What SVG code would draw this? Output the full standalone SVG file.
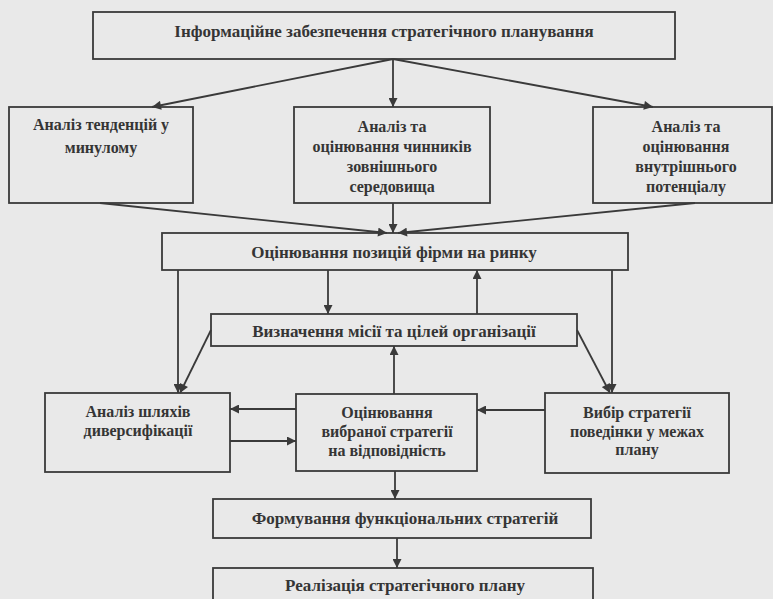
<svg xmlns="http://www.w3.org/2000/svg" width="773" height="599" viewBox="0 0 773 599">
<style>
.bg{fill:#e9e9e9}
.box{fill:none;stroke:#3a3a3a;stroke-width:1.8}
.t{font-family:"Liberation Serif","Tinos","DejaVu Serif","Times New Roman",serif;font-size:17px;font-weight:bold;fill:#353535;text-anchor:middle}
.s{font-size:16px}
.c line{stroke:#3a3a3a;stroke-width:1.8;marker-end:url(#ah)}
</style>
<defs>
<marker id="ah" viewBox="0 0 10 10" refX="10" refY="5" markerWidth="11" markerHeight="9" markerUnits="userSpaceOnUse" orient="auto">
<path d="M0,0 L10,5 L0,10 Z" fill="#3a3a3a"/>
</marker>
</defs>
<rect class="bg" x="0" y="0" width="773" height="599"/>
<g class="c" id="connectors">
<line x1="393" y1="59" x2="152" y2="107"/>
<line x1="393" y1="59" x2="393" y2="107"/>
<line x1="393" y1="59" x2="653" y2="107"/>
<line x1="100" y1="203" x2="387" y2="233"/>
<line x1="393" y1="203" x2="393" y2="233"/>
<line x1="695" y1="203" x2="398" y2="233"/>
<line x1="178" y1="270" x2="178" y2="393"/>
<line x1="328" y1="270" x2="328" y2="314"/>
<line x1="477" y1="314" x2="477" y2="270"/>
<line x1="612" y1="270" x2="612" y2="393"/>
<line x1="211" y1="330" x2="180" y2="393"/>
<line x1="577" y1="330" x2="610" y2="393"/>
<line x1="394" y1="394" x2="394" y2="346"/>
<line x1="296" y1="409" x2="230" y2="409"/>
<line x1="230" y1="441" x2="296" y2="441"/>
<line x1="545" y1="410" x2="477" y2="410"/>
<line x1="395" y1="471" x2="395" y2="499"/>
<line x1="397" y1="538" x2="397" y2="568"/>
</g>
<g id="n-info">
<rect class="box" x="93" y="12" width="582" height="47"/>
<text class="t" x="384" y="37">Інформаційне забезпечення стратегічного планування</text>
</g>
<g id="n-past">
<rect class="box" x="9" y="107" width="184" height="96"/>
<text class="t s" x="101" y="130">Аналіз тенденцій у</text>
<text class="t s" x="101" y="153">минулому</text>
</g>
<g id="n-ext">
<rect class="box" x="294" y="107" width="196" height="96"/>
<text class="t s" x="392" y="132">Аналіз та</text>
<text class="t s" x="392" y="152">оцінювання чинників</text>
<text class="t s" x="392" y="172">зовнішнього</text>
<text class="t s" x="392" y="192">середовища</text>
</g>
<g id="n-int">
<rect class="box" x="593" y="107" width="179" height="96"/>
<text class="t s" x="686" y="132">Аналіз та</text>
<text class="t s" x="686" y="152">оцінювання</text>
<text class="t s" x="686" y="172">внутрішнього</text>
<text class="t s" x="686" y="192">потенціалу</text>
</g>
<g id="n-pos">
<rect class="box" x="162" y="233" width="466" height="37"/>
<text class="t" x="394" y="258">Оцінювання позицій фірми на ринку</text>
</g>
<g id="n-mission">
<rect class="box" x="211" y="314" width="366" height="32"/>
<text class="t" x="394" y="337">Визначення місії та цілей організації</text>
</g>
<g id="n-div">
<rect class="box" x="45" y="393" width="185" height="79"/>
<text class="t s" x="138" y="417">Аналіз шляхів</text>
<text class="t s" x="138" y="436">диверсифікації</text>
</g>
<g id="n-eval">
<rect class="box" x="296" y="394" width="181" height="77"/>
<text class="t s" x="387" y="418">Оцінювання</text>
<text class="t s" x="387" y="437">вибраної стратегії</text>
<text class="t s" x="387" y="456">на відповідність</text>
</g>
<g id="n-choice">
<rect class="box" x="545" y="393" width="184" height="80"/>
<text class="t s" x="637" y="418">Вибір стратегії</text>
<text class="t s" x="637" y="437">поведінки у межах</text>
<text class="t s" x="637" y="455">плану</text>
</g>
<g id="n-func">
<rect class="box" x="213" y="499" width="378" height="39"/>
<text class="t" x="405" y="524">Формування функціональних стратегій</text>
</g>
<g id="n-impl">
<rect class="box" x="213" y="568" width="380" height="40"/>
<text class="t" x="405" y="591">Реалізація стратегічного плану</text>
</g>
</svg>
